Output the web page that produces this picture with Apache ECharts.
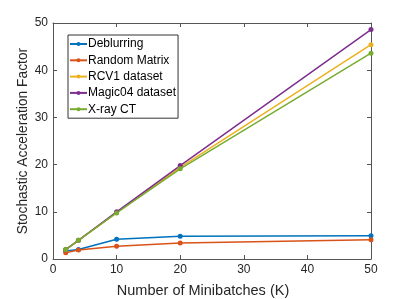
<!DOCTYPE html>
<html>
<head>
<meta charset="utf-8">
<script src="https://cdn.jsdelivr.net/npm/echarts@6/dist/echarts.min.js"></script>
<style>html,body{margin:0;padding:0;background:#fff;}#c{width:411px;height:299px;}</style>
</head>
<body>
<div id="c"></div>
<script>
const xValues = [2, 4, 10, 20, 50];
const seriesNames = ['Deblurring', 'Random Matrix', 'RCV1 dataset', 'Magic04 dataset', 'X-ray CT'];
const deblurring = [1.7, 2.0, 4.2, 4.8, 4.9];
const randomMatrix = [1.3, 1.9, 2.7, 3.4, 4.1];
const rcv1 = [2.0, 3.95, 9.8, 19.4, 45.4];
const magic04 = [2.0, 3.95, 10.0, 19.8, 48.6];
const xrayCT = [2.0, 3.95, 9.75, 19.1, 43.6];
const colors = ['#0072BD', '#D95319', '#EDB120', '#7E2F8E', '#77AC30'];
const xTicks = [0, 10, 20, 30, 40, 50];
const yTicks = [0, 10, 20, 30, 40, 50];

const allData = [deblurring, randomMatrix, rcv1, magic04, xrayCT];
const font = 'Liberation Sans, Arial, Helvetica, sans-serif';
const axisColor = '#555555';
const textColor = '#262626';

function axisBase(pos, show, name, extra) {
  return Object.assign({
    type: 'value',
    position: pos,
    min: 0, max: 50, interval: 10,
    axisLine: {show: true, onZero: false, lineStyle: {color: axisColor, width: 1}},
    axisTick: {show: true, inside: true, length: 4, lineStyle: {color: axisColor}},
    axisLabel: {show: show, color: textColor, fontFamily: font, fontSize: 12, margin: 5},
    splitLine: {show: false},
    name: name,
    nameLocation: 'middle',
    nameMoveOverlap: false
  }, extra || {});
}

const chart = echarts.init(document.getElementById('c'), null, {renderer: 'canvas'});
chart.setOption({
  animation: false,
  color: colors,
  grid: {left: 53, right: 40, top: 23, bottom: 40, containLabel: false, outerBoundsMode: 'none'},
  xAxis: [
    axisBase('bottom', true, 'Number of Minibatches (K)', {
      nameGap: 24,
      nameTextStyle: {color: textColor, fontFamily: font, fontSize: 14.5, padding: [0, 18, 0, 0]}
    }),
    axisBase('top', false, '', {})
  ],
  yAxis: [
    axisBase('left', true, 'Stochastic Acceleration Factor', {
      nameGap: 23,
      nameTextStyle: {color: textColor, fontFamily: font, fontSize: 13.8}
    }),
    axisBase('right', false, '', {})
  ],
  legend: {
    orient: 'vertical',
    left: 68, top: 35,
    data: seriesNames,
    itemWidth: 17, itemHeight: 5,
    itemGap: 2.3,
    padding: [2, 2, 2, 1],
    borderColor: '#333',
    borderWidth: 1,
    backgroundColor: '#fff',
    textStyle: {color: '#000', fontFamily: font, fontSize: 12, lineHeight: 14, padding: [0, 0, 0, -4]}
  },
  series: seriesNames.map((n, i) => ({
    name: n,
    type: 'line',
    xAxisIndex: 0, yAxisIndex: 0,
    data: xValues.map((x, j) => [x, allData[i][j]]),
    symbol: 'circle',
    symbolSize: 5,
    lineStyle: {width: 1.5, color: colors[i]},
    itemStyle: {color: colors[i]},
    z: 2
  }))
});
</script>
</body>
</html>
